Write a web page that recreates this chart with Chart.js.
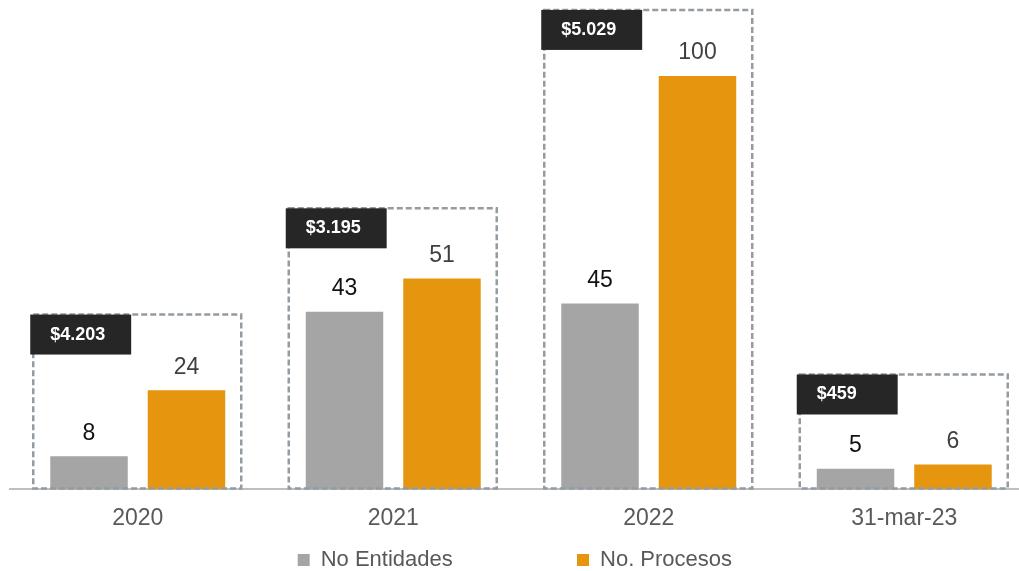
<!DOCTYPE html>
<html>
<head>
<meta charset="utf-8">
<script src="https://cdn.jsdelivr.net/npm/chart.js@4.4.0/dist/chart.umd.min.js"></script>
<style>
  html, body { margin: 0; padding: 0; background: #fff; overflow: hidden; }
  #wrap { width: 1019px; height: 571px; overflow: hidden; }
</style>
</head>
<body>
<div id="wrap"><canvas id="chart" width="1032" height="581"></canvas></div>
<script>
// DATA
const categories = ['2020', '2021', '2022', '31-mar-23'];
const entidades = [8, 43, 45, 5];
const procesos = [24, 51, 100, 6];
const montos = ['$4.203', '$3.195', '$5.029', '$459'];
const frameTops = [42.3, 68, 116, 27.8]; // top of each dashed frame, in axis units

const FONT = "'Liberation Sans', Arial, sans-serif";
const NBSP = '\u00a0';

// dashed frames + black amount tags
const frameBoxes = {
  id: 'frameBoxes',
  afterDatasetsDraw(chart) {
    const {ctx, scales: {x, y}} = chart;
    const step = x.getPixelForValue(1) - x.getPixelForValue(0);
    ctx.save();
    categories.forEach((c, i) => {
      const cx = x.getPixelForValue(i);
      const left = cx - step * 0.409;
      const right = cx + step * 0.405;
      const top = y.getPixelForValue(frameTops[i]);
      const bottom = y.getPixelForValue(0) - 1;
      ctx.setLineDash([6, 3]);
      ctx.strokeStyle = '#939ca2';
      ctx.lineWidth = 2.5;
      ctx.strokeRect(left, top, right - left, bottom - top);
      ctx.setLineDash([]);
      ctx.fillStyle = '#262626';
      ctx.fillRect(left - 3, top, step * 0.395, 40);
      ctx.fillStyle = '#fff';
      ctx.font = 'bold 18px ' + FONT;
      ctx.textBaseline = 'middle';
      ctx.textAlign = 'left';
      ctx.fillText(montos[i], left + 17, top + 20);
    });
    ctx.restore();
  }
};

// value above each bar
const valueLabels = {
  id: 'valueLabels',
  afterDatasetsDraw(chart) {
    const {ctx} = chart;
    ctx.save();
    ctx.font = '23px ' + FONT;
    ctx.textAlign = 'center';
    ctx.textBaseline = 'middle';
    chart.data.datasets.forEach((ds, d) => {
      chart.getDatasetMeta(d).data.forEach((bar, i) => {
        ctx.fillStyle = d === 0 ? '#111111' : '#404040';
        ctx.fillText(ds.data[i], bar.x, bar.y - 23);
      });
    });
    ctx.restore();
  }
};

new Chart(document.getElementById('chart'), {
  type: 'bar',
  data: {
    labels: categories,
    datasets: [
      {label: 'No Entidades', data: entidades, backgroundColor: '#a5a5a5'},
      {label: 'No. Procesos', data: procesos, backgroundColor: '#e5960e'}
    ]
  },
  options: {
    responsive: false,
    animation: false,
    categoryPercentage: 0.763,
    barPercentage: 0.795,
    layout: {padding: {left: 10, right: 0, top: 0, bottom: 0}},
    scales: {
      x: {
        grid: {display: false, drawTicks: false},
        border: {display: true, color: '#bfbfbf', width: 2},
        ticks: {color: '#595959', font: {family: FONT, size: 23}, padding: 15}
      },
      y: {display: false, min: 0, max: 118.4}
    },
    plugins: {
      tooltip: {enabled: false},
      legend: {
        position: 'bottom',
        labels: {
          color: '#595959',
          font: {family: FONT, size: 22},
          boxWidth: 12,
          boxHeight: 12,
          padding: 2,
          generateLabels(chart) {
            const items = Chart.defaults.plugins.legend.labels.generateLabels(chart);
            items[0].text += NBSP.repeat(20);
            items[1].text += NBSP.repeat(2);
            return items;
          }
        }
      }
    }
  },
  plugins: [frameBoxes, valueLabels]
});
</script>
</body>
</html>
